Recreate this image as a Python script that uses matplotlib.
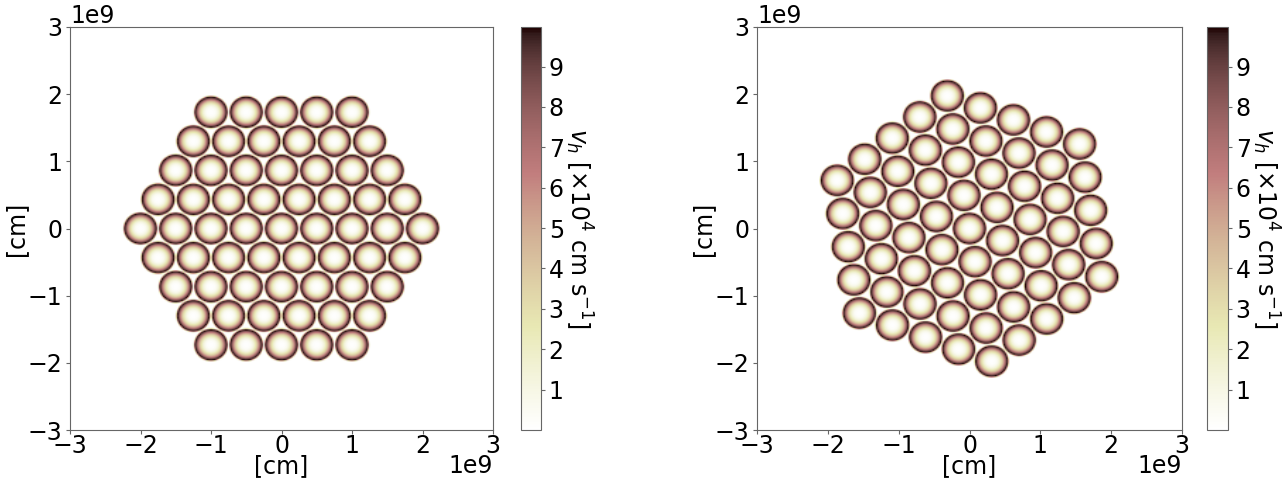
"""Flux tube bundle: horizontal velocity maps for two hexagonal arrangements."""

import numpy as np
import matplotlib
matplotlib.use("Agg")
import matplotlib.pyplot as plt

# --- Data ---
ROW_COUNTS = [5, 6, 7, 8, 9, 8, 7, 6, 5]   # tubes per row of the hexagon
TUBE_SPACING = 0.5e9                        # cm between neighbouring tubes
TUBE_RADIUS = 0.25e9                        # cm
ROTATIONS_DEG = [0.0, -21.0]                # bundle rotation per panel

# radial velocity profile, r / R  ->  v_h [1e4 cm/s]
PROFILE_S = [0.0, 0.2, 0.32, 0.45, 0.56, 0.66, 0.74, 0.8, 0.85, 0.89, 0.92, 0.95, 0.98, 1.02]
PROFILE_V = [0.0, 0.2, 0.6, 1.6, 3.0, 4.8, 6.6, 8.2, 9.4, 9.98, 9.0, 5.5, 2.0, 0.0]

V_MIN, V_MAX = 0.0, 9.98
CBAR_TICKS = [1, 2, 3, 4, 5, 6, 7, 8, 9]
EXTENT = 3e9
N_GRID = 300

FS = 17
SPINE = "#666666"


def tube_centres(rot_deg):
    xs, ys = [], []
    nrow = len(ROW_COUNTS)
    for j, n in enumerate(ROW_COUNTS):
        y = (j - (nrow - 1) / 2) * TUBE_SPACING * np.sqrt(3) / 2
        for i in range(n):
            xs.append((i - (n - 1) / 2) * TUBE_SPACING)
            ys.append(-y)
    xs, ys = np.array(xs), np.array(ys)
    t = np.deg2rad(rot_deg)
    return xs * np.cos(t) - ys * np.sin(t), xs * np.sin(t) + ys * np.cos(t)


def velocity_map(rot_deg):
    edges = np.linspace(-EXTENT, EXTENT, N_GRID + 1)
    mid = 0.5 * (edges[1:] + edges[:-1])
    X, Y = np.meshgrid(mid, mid)
    V = np.zeros_like(X)
    cx, cy = tube_centres(rot_deg)
    for x0, y0 in zip(cx, cy):
        s = np.hypot(X - x0, Y - y0) / TUBE_RADIUS
        v = np.interp(s, PROFILE_S, PROFILE_V, right=0.0)
        V = np.maximum(V, v)
    return V


def main():
    plt.rcParams["font.size"] = FS
    plt.rcParams["axes.edgecolor"] = SPINE
    plt.rcParams["xtick.color"] = SPINE
    plt.rcParams["ytick.color"] = SPINE
    plt.rcParams["xtick.labelcolor"] = "black"
    plt.rcParams["ytick.labelcolor"] = "black"
    plt.rcParams["xtick.major.size"] = 3
    plt.rcParams["ytick.major.size"] = 3
    plt.rcParams["xtick.major.pad"] = 0
    plt.rcParams["ytick.major.pad"] = 2.5

    fig = plt.figure(figsize=(12.88, 4.8), dpi=100)
    W, H = 1288, 480
    panels = [
        ((70, 423), (521, 20)),
        ((757, 425), (1207, 21)),
    ]
    bottom, height = (480 - 430) / H, 403 / H

    for (ax_pos, cb_pos), rot in zip(panels, ROTATIONS_DEG):
        ax = fig.add_axes([ax_pos[0] / W, bottom, ax_pos[1] / W, height])
        cax = fig.add_axes([cb_pos[0] / W, bottom, cb_pos[1] / W, height])

        V = velocity_map(rot)
        im = ax.imshow(V, cmap="pink_r", vmin=V_MIN, vmax=V_MAX,
                       origin="lower", aspect="auto",
                       extent=[-EXTENT, EXTENT, -EXTENT, EXTENT],
                       interpolation="bilinear")
        ax.set_xlim(-EXTENT, EXTENT)
        ax.set_ylim(-EXTENT, EXTENT)
        ax.set_xticks(np.arange(-3, 4) * 1e9)
        ax.set_yticks(np.arange(-3, 4) * 1e9)
        ax.set_xlabel("[cm]", labelpad=-3)
        ax.set_ylabel("[cm]", labelpad=0)
        # pull the "1e9" multiplier up beside the x label
        ax.xaxis.OFFSETTEXTPAD = -3

        cb = fig.colorbar(im, cax=cax, ticks=CBAR_TICKS)
        cb.outline.set_edgecolor(SPINE)
        cb.set_label(r"$v_h$ [$\times 10^4$ cm s$^{-1}$]", rotation=270,
                     labelpad=22)

    fig.savefig("out.png", dpi=100)
    plt.close(fig)


if __name__ == "__main__":
    main()
